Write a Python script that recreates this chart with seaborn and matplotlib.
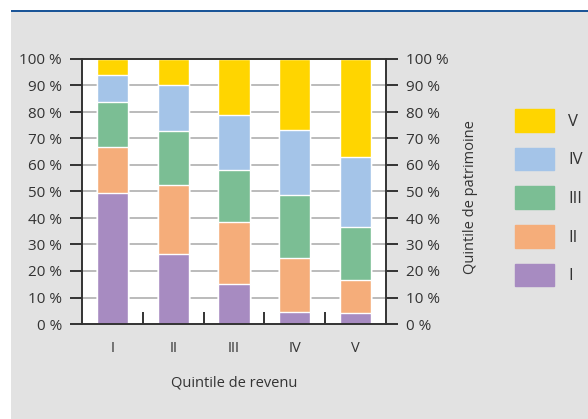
import pandas as pd
import matplotlib.pyplot as plt
import matplotlib.patches as mpatches
import seaborn as sns

sns.set_style("white")
plt.rcParams['font.family'] = ['Open Sans', 'DejaVu Sans']

# Income quintiles (x) and wealth quintile shares (%) per income quintile
revenu = ["I", "II", "III", "IV", "V"]
patrimoine = ["I", "II", "III", "IV", "V"]
part_I = [49.4, 26.4, 15.1, 4.5, 4.1]
part_II = [17.4, 26.1, 23.4, 20.4, 12.5]
part_III = [17.0, 20.3, 19.6, 23.8, 20.0]
part_IV = [10.2, 17.2, 20.7, 24.5, 26.4]
part_V = [6.0, 10.0, 21.2, 26.8, 37.0]
couleurs = ["#a78bc1", "#f5ad7a", "#7bbe94", "#a4c4e8", "#ffd500"]
y_ticks = [0, 10, 20, 30, 40, 50, 60, 70, 80, 90, 100]

df = pd.DataFrame({"revenu": revenu, "I": part_I, "II": part_II,
                   "III": part_III, "IV": part_IV, "V": part_V})
cum = df[patrimoine].cumsum(axis=1)

texte = "#333333"
fig = plt.figure(figsize=(5.88, 4.19), dpi=100)
fig.patch.set_facecolor("white")
# grey panel and blue rule at top
fig.patches.append(mpatches.Rectangle((11 / 588, 0), 1, (419 - 12) / 419,
                                      transform=fig.transFigure,
                                      facecolor="#e2e2e2", edgecolor="none", zorder=-5))
fig.patches.append(mpatches.Rectangle((11 / 588, (419 - 12.5) / 419), 1, 2.5 / 419,
                                      transform=fig.transFigure,
                                      facecolor="#1b5598", edgecolor="none", zorder=-5))

ax = fig.add_axes([82 / 588, (419 - 324) / 419, 304 / 588, 265 / 419])
ax.set_facecolor("white")

# stacked bars: draw cumulative layers from top down
for cat, col in reversed(list(zip(patrimoine, couleurs))):
    sns.barplot(x=df["revenu"], y=cum[cat], color=col, saturation=1,
                width=0.51, errorbar=None, ax=ax, zorder=2)

ax.set_ylim(0, 100)
ax.set_xlim(-0.5, 4.5)
ax.set_yticks(y_ticks)
ax.set_yticklabels([f"{t} %" for t in y_ticks])
for t in y_ticks[1:-1]:
    ax.axhline(t, color="#b5b5b5", lw=1.3, zorder=1)

for s in ax.spines.values():
    s.set_visible(True)
    s.set_color("#333333")
    s.set_linewidth(1.4)

ax.tick_params(axis="y", direction="out", length=8.5, width=1.4, color="#333333",
               labelsize=11, labelcolor=texte, pad=6, left=True)
ax.tick_params(axis="x", which="major", length=0, labelsize=10.5,
               labelcolor=texte, pad=12.5)
ax.set_xticks([0.5, 1.5, 2.5, 3.5], minor=True)
ax.tick_params(axis="x", which="minor", direction="in", length=8.5, width=1.4,
               color="#333333", bottom=True)
ax.set_xlabel("Quintile de revenu", fontsize=10.5, color=texte, labelpad=14)
ax.set_ylabel("")

ax2 = ax.twinx()
ax2.set_ylim(0, 100)
ax2.set_yticks(y_ticks)
ax2.set_yticklabels([f"{t} %" for t in y_ticks])
ax2.tick_params(axis="y", direction="out", length=8.5, width=1.4, color="#333333",
                labelsize=11, labelcolor=texte, pad=6, right=True)
for s in ax2.spines.values():
    s.set_visible(False)

fig.text(470 / 588, 1 - 197 / 419, "Quintile de patrimoine", rotation=90,
         ha="center", va="center", fontsize=10.5, color=texte)

handles = [mpatches.Patch(color=c, label=l)
           for l, c in reversed(list(zip(patrimoine, couleurs)))]
leg = fig.legend(handles=handles, loc="upper left",
                 bbox_to_anchor=(515 / 588, 1 - 109 / 419), frameon=False,
                 borderpad=0, borderaxespad=0, handlelength=2.34,
                 handleheight=1.73, labelspacing=0.95, handletextpad=0.84,
                 fontsize=12)
for t in leg.get_texts():
    t.set_color(texte)

plt.savefig("out.png", dpi=100)
